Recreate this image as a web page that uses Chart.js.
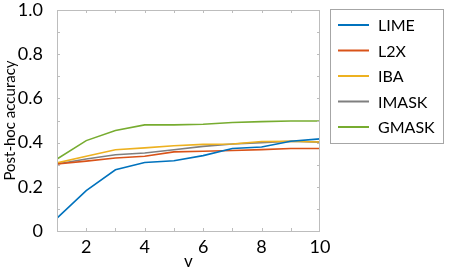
<!DOCTYPE html>
<html>
<head>
<meta charset="utf-8">
<script src="https://cdn.jsdelivr.net/npm/chart.js@4"></script>
<style>
  html, body { margin: 0; padding: 0; background: #fff; }
  #wrap { position: relative; width: 451px; height: 276px; }
</style>
</head>
<body>
<div id="wrap"><canvas id="chart" width="451" height="276"></canvas></div>
<script>
const vValues = [1, 2, 3, 4, 5, 6, 7, 8, 9, 10]
const lime = [0.058, 0.183, 0.277, 0.31, 0.318, 0.341, 0.373, 0.38, 0.406, 0.417]
const l2x = [0.303, 0.316, 0.33, 0.338, 0.358, 0.361, 0.364, 0.368, 0.373, 0.373]
const iba = [0.308, 0.338, 0.368, 0.376, 0.386, 0.392, 0.394, 0.405, 0.406, 0.403]
const imask = [0.303, 0.326, 0.345, 0.353, 0.368, 0.383, 0.394, 0.4, 0.406, 0.402]
const gmask = [0.326, 0.409, 0.455, 0.48, 0.48, 0.483, 0.491, 0.495, 0.498, 0.498]
const seriesNames = ['LIME', 'L2X', 'IBA', 'IMASK', 'GMASK']
const seriesColors = ['#0072BD', '#D95319', '#EDB120', '#7F7F7F', '#77AC30']

const FONT = 'Lato, "Open Sans", sans-serif'
const AXIS_GREY = '#bdbdbd'

const toPoints = ys => ys.map((y, i) => ({ x: vValues[i], y }))

// box frame plus small inward ticks, like the original figure
const frameTicks = {
  id: 'frameTicks',
  afterDraw(chart) {
    const { ctx, chartArea: a, scales } = chart
    ctx.save()
    ctx.strokeStyle = AXIS_GREY
    ctx.lineWidth = 1
    ctx.strokeRect(a.left + 0.5, a.top + 0.5, a.right - a.left - 1, a.bottom - a.top)
    const len = 3
    ctx.beginPath()
    for (let v = 0.1; v < 1; v += 0.1) {
      const y = Math.round(scales.y.getPixelForValue(v)) + 0.5
      ctx.moveTo(a.left, y); ctx.lineTo(a.left + len, y)
      ctx.moveTo(a.right, y); ctx.lineTo(a.right - len, y)
    }
    for (let v = 2; v < 10; v++) {
      const x = Math.round(scales.x.getPixelForValue(v)) + 0.5
      ctx.moveTo(x, a.bottom); ctx.lineTo(x, a.bottom - len)
      ctx.moveTo(x, a.top); ctx.lineTo(x, a.top + len)
    }
    ctx.stroke()
    ctx.restore()
  }
}

// boxed legend to the right of the plot
const boxLegend = {
  id: 'boxLegend',
  afterDraw(chart) {
    const { ctx } = chart
    const left = 330, top = 9, width = 113, height = 134
    ctx.save()
    ctx.strokeStyle = '#a6a6a6'
    ctx.lineWidth = 1
    ctx.strokeRect(left + 0.5, top + 0.5, width, height)
    ctx.font = '16px ' + FONT
    ctx.textBaseline = 'middle'
    ctx.fillStyle = '#000'
    chart.data.datasets.forEach((ds, i) => {
      const y = 25 + i * 25.5
      ctx.strokeStyle = ds.borderColor
      ctx.lineWidth = 2
      ctx.beginPath()
      ctx.moveTo(338, y); ctx.lineTo(369, y)
      ctx.stroke()
      ctx.fillText(ds.label, 378, y + 1)
    })
    ctx.restore()
  }
}

const datasets = [lime, l2x, iba, imask, gmask].map((ys, i) => ({
  label: seriesNames[i],
  data: toPoints(ys),
  borderColor: seriesColors[i],
  backgroundColor: seriesColors[i],
  borderWidth: 1.6,
  pointRadius: 0,
  tension: 0
}))

const ctx = document.getElementById('chart').getContext('2d')
new Chart(ctx, {
  type: 'line',
  data: { datasets },
  options: {
    responsive: false,
    animation: false,
    layout: { padding: { left: 0, right: 131, top: 0, bottom: 0 } },
    scales: {
      x: {
        type: 'linear',
        min: 1,
        max: 10,
        grid: { display: false },
        border: { display: false },
        ticks: {
          stepSize: 1,
          autoSkip: false,
          maxRotation: 0,
          color: '#000',
          font: { family: FONT, size: 18 },
          padding: -3,
          callback: v => (v % 2 === 0 ? String(v) : '')
        },
        title: {
          display: true,
          text: 'v',
          color: '#000',
          font: { family: FONT, size: 17 },
          padding: { top: 0, bottom: 4 }
        },
        afterFit: s => { s.height = 45 }
      },
      y: {
        min: 0,
        max: 1,
        grid: { display: false },
        border: { display: false },
        ticks: {
          stepSize: 0.2,
          color: '#000',
          font: { family: FONT, size: 18 },
          padding: 6,
          callback: v => (v === 0 ? '0' : v.toFixed(1))
        },
        title: {
          display: true,
          text: 'Post-hoc accuracy',
          color: '#000',
          font: { family: FONT, size: 15 },
          padding: { top: 1, bottom: 0 }
        },
        afterFit: s => {
          s.width = 57
          s.paddingTop = 10
          s.paddingBottom = 0
        }
      }
    },
    plugins: {
      legend: { display: false },
      tooltip: { enabled: false }
    }
  },
  plugins: [frameTicks, boxLegend]
})
</script>
</body>
</html>
